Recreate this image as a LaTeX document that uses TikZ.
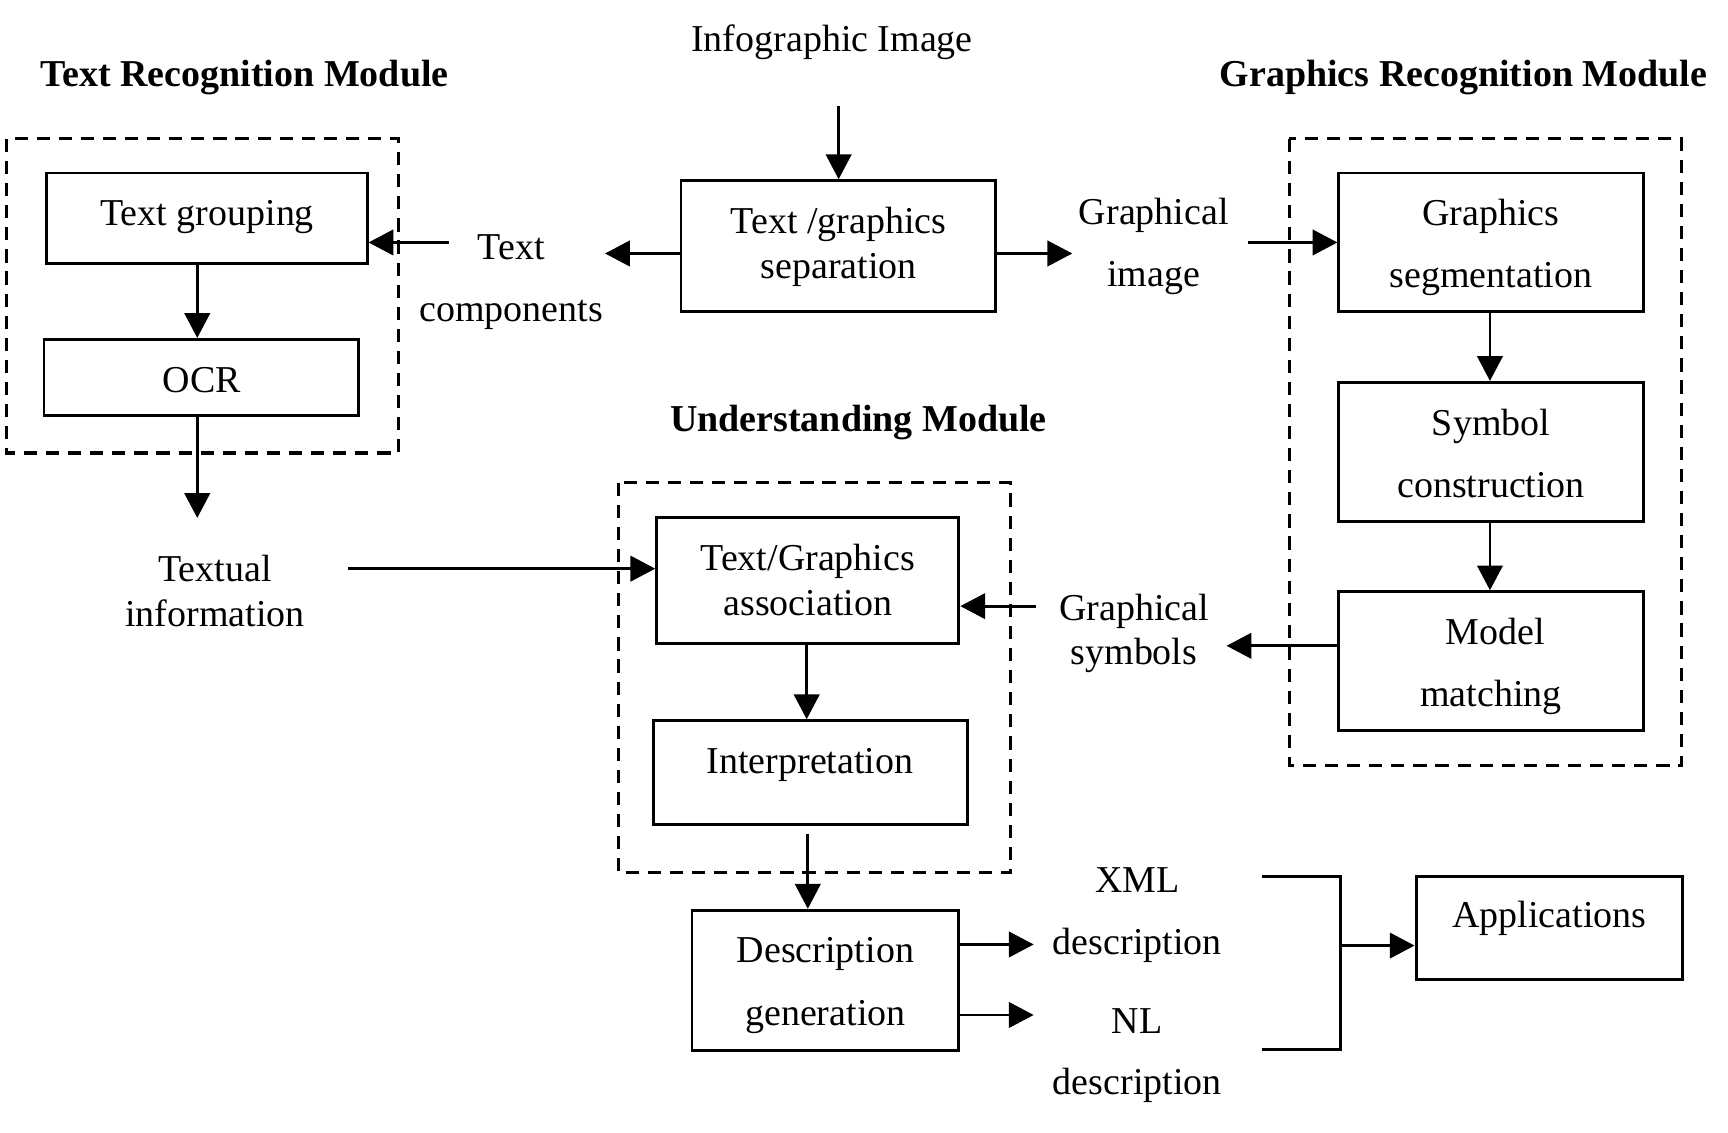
\documentclass[tikz,border=0pt]{standalone}
\usepackage{fontspec}
\setmainfont{Liberation Serif}
\usetikzlibrary{arrows.meta}
\tikzset{
  box/.style={draw, line width=0.75pt, rectangle, inner sep=0pt},
  grp/.style={draw, line width=0.8pt, dash pattern=on 3.4pt off 2.3pt},
  lbl/.style={anchor=base, inner sep=0pt, yshift=-0.018cm, font=\fontsize{9.8}{11.8}\selectfont},
  ttl/.style={lbl, font=\fontsize{9.8}{11.8}\selectfont\bfseries},
  arr/.style={line width=0.75pt, -{Triangle[length=0.225cm, width=0.23cm]}},
  ln/.style={line width=0.75pt}
}
\begin{document}
\begin{tikzpicture}[x=0.01cm, y=-0.01cm]
\useasboundingbox (0,0) rectangle (1568,1027.2);

% dashed module frames
\draw[grp] (6,126) rectangle (362,411);
\draw[grp] (1170,126) rectangle (1526,695);
\draw[grp] (561,438) rectangle (917,792);

% boxes
\node[box, minimum width=2.91cm, minimum height=0.82cm] (tg) at (187.5,198) {};
\node[box, minimum width=2.85cm, minimum height=0.69cm] (ocr) at (182.5,342.5) {};
\node[box, minimum width=2.85cm, minimum height=1.19cm] (sep) at (760.5,223.5) {};
\node[box, minimum width=2.76cm, minimum height=1.26cm] (gs) at (1353,220) {};
\node[box, minimum width=2.76cm, minimum height=1.26cm] (sc) at (1353,410) {};
\node[box, minimum width=2.76cm, minimum height=1.26cm] (mm) at (1353,600) {};
\node[box, minimum width=2.74cm, minimum height=1.14cm] (tga) at (733,527) {};
\node[box, minimum width=2.85cm, minimum height=0.94cm] (interp) at (735.5,701) {};
\node[box, minimum width=2.42cm, minimum height=1.27cm] (dg) at (749,889.5) {};
\node[box, minimum width=2.42cm, minimum height=0.94cm] (app) at (1406,842) {};

% titles
\node[lbl] (infog) at (755,45) {Infographic Image};
\node[ttl] (ttrm) at (222,77) {Text Recognition Module};
\node[ttl] (tgrm) at (1328,77) {Graphics Recognition Module};
\node[ttl] (tum) at (779,390) {Understanding Module};

% box texts
\node[lbl] (t1) at (188,203) {Text grouping};
\node[lbl] (t2) at (183,354) {OCR};
\node[lbl] (t3) at (761,210) {Text /graphics};
\node[lbl] (t4) at (761,251) {separation};
\node[lbl] (t5) at (1353,203) {Graphics};
\node[lbl] (t6) at (1353,259) {segmentation};
\node[lbl] (t7) at (1353,393) {Symbol};
\node[lbl] (t8) at (1353,450) {construction};
\node[lbl] (t9) at (1357,583) {Model};
\node[lbl] (t10) at (1353,639) {matching};
\node[lbl] (t11) at (733,516) {Text/Graphics};
\node[lbl] (t12) at (733,557) {association};
\node[lbl] (t13) at (735,700) {Interpretation};
\node[lbl] (t14) at (749,872) {Description};
\node[lbl] (t15) at (749,929) {generation};
\node[lbl] (t16) at (1406,840) {Applications};

% free labels
\node[lbl] (l1) at (464,234) {Text};
\node[lbl] (l2) at (464,290) {components};
\node[lbl] (l3) at (1047,202) {Graphical};
\node[lbl] (l4) at (1047,258) {image};
\node[lbl] (l5) at (195,526) {Textual};
\node[lbl] (l6) at (195,567) {information};
\node[lbl] (l7) at (1029,561) {Graphical};
\node[lbl] (l8) at (1029,601) {symbols};
\node[lbl] (l9) at (1032,808) {XML};
\node[lbl] (l10) at (1032,864) {description};
\node[lbl] (l11) at (1032,936) {NL};
\node[lbl] (l12) at (1032,991) {description};

% coordinates for free ends
\coordinate (c1) at (761,96);
\coordinate (c2) at (549,230);
\coordinate (c3) at (407,220);
\coordinate (c4) at (179,470);
\coordinate (c5) at (316,516);
\coordinate (c6) at (973,230);
\coordinate (c7) at (1132,220);
\coordinate (c8) at (1113,586);
\coordinate (c9) at (940,550);
\coordinate (c10) at (733,757);
\coordinate (c11) at (938,857);
\coordinate (c12) at (938,921);
\coordinate (b1) at (1145,795);
\coordinate (b2) at (1216,795);
\coordinate (b3) at (1216,952);
\coordinate (b4) at (1145,952);
\coordinate (bm) at (1216,858);

% connectors
\draw[arr] (c1) -- (c1 |- sep.north);
\draw[arr] (sep.west |- c2) -- (c2);
\draw[arr] (c3) -- (c3 -| tg.east);
\draw[arr] (179,0 |- tg.south) -- (179,0 |- ocr.north);
\draw[arr] (c4 |- ocr.south) -- (c4);
\draw[arr] (c5) -- (c5 -| tga.west);
\draw[arr] (sep.east |- c6) -- (c6);
\draw[arr] (c7) -- (c7 -| gs.west);
\draw[arr] (1352,0 |- gs.south) -- (1352,0 |- sc.north);
\draw[arr] (1352,0 |- sc.south) -- (1352,0 |- mm.north);
\draw[arr] (mm.west |- c8) -- (c8);
\draw[arr] (c9) -- (c9 -| tga.east);
\draw[arr] (732,0 |- tga.south) -- (732,0 |- interp.north);
\draw[arr] (c10) -- (c10 |- dg.north);
\draw[arr] (dg.east |- c11) -- (c11);
\draw[arr] (dg.east |- c12) -- (c12);
\draw[ln] (b1) -- (b2) -- (b3) -- (b4);
\draw[arr] (bm) -- (bm -| app.west);
\end{tikzpicture}
\end{document}
